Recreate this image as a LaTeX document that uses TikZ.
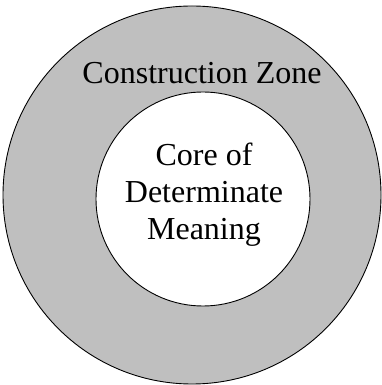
\documentclass[tikz,border=0pt]{standalone}
\usepackage{fontspec}
\setmainfont{Liberation Serif}
\begin{document}
\begin{tikzpicture}[x=1pt,y=1pt,
  ring/.style={draw=black,line width=0.9pt},
  lbl/.style={font=\fontsize{32}{37}\selectfont,inner sep=0pt,align=center}]
\useasboundingbox (0,0) rectangle (382,385);
\node[ring,circle,fill=gray!50,minimum size=378pt,inner sep=0pt] (outer) at (192,190) {};
\node[ring,circle,fill=white,minimum size=214pt,inner sep=0pt] (inner) at (203,186) {};
\node[lbl,anchor=base] (zone) at (202,301) {Construction Zone};
\node[lbl,anchor=base] (core) at (204,145) {Core of\\Determinate\\Meaning};
\end{tikzpicture}
\end{document}
